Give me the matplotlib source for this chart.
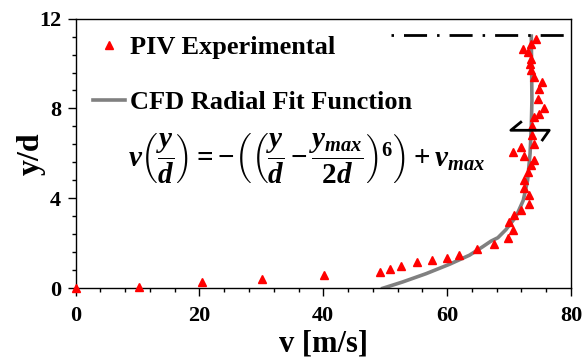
import matplotlib
matplotlib.use("Agg")
import matplotlib.pyplot as plt
from matplotlib.ticker import MultipleLocator

plt.rcParams["font.family"] = ["Liberation Serif", "DejaVu Serif"]
plt.rcParams["font.weight"] = "bold"
plt.rcParams["mathtext.fontset"] = "custom"
plt.rcParams["mathtext.rm"] = "Liberation Serif:bold"
plt.rcParams["mathtext.it"] = "Liberation Serif:bold:italic"
plt.rcParams["mathtext.bf"] = "Liberation Serif:bold"

# PIV measurements (v in m/s, y/d)
piv_v = [0.0, 10.2, 20.4, 30.1, 40.1, 49.1, 50.7, 52.5, 55.2, 57.6, 60.0,
         62.0, 64.8, 67.5, 69.9, 70.7, 70.0, 70.8, 71.9, 73.3, 73.3, 72.5,
         72.5, 73.0, 73.5, 74.1, 72.5, 70.6, 72.0, 74.0, 73.7, 73.7, 74.0,
         74.9, 75.7, 74.7, 74.9, 75.3, 74.0, 73.5, 73.4, 73.6, 73.1, 72.3,
         73.5, 74.4]
piv_y = [0.0, 0.07, 0.27, 0.43, 0.60, 0.71, 0.87, 0.97, 1.15, 1.26, 1.36,
         1.47, 1.74, 1.98, 2.25, 2.58, 2.93, 3.25, 3.47, 3.77, 4.15, 4.48,
         4.80, 5.17, 5.47, 5.69, 5.88, 6.07, 6.28, 6.41, 6.82, 7.20, 7.61,
         7.77, 8.02, 8.40, 8.87, 9.17, 9.39, 9.69, 9.99, 10.20, 10.50, 10.65,
         10.87, 11.07]

# CFD radial fit curve
cfd_v = [49.6, 52.8, 56.6, 60.4, 63.6, 65.7, 67.1, 68.2, 69.5, 71.1, 72.3,
         73.0, 73.4, 73.6, 73.7, 73.6]
cfd_y = [0.0, 0.28, 0.65, 1.07, 1.47, 1.84, 2.10, 2.25, 2.61, 3.17, 3.91,
         4.80, 5.99, 7.17, 8.36, 11.22]

# dash-dot line at the top and the rotation mark
top_v = [51.0, 79.0]
top_y = [11.28, 11.28]
mark_v = [71.9, 70.3, 76.5, 75.4]
mark_y = [7.39, 7.03, 7.03, 6.60]

fig = plt.figure(figsize=(5.84, 3.64), dpi=100)
ax = fig.add_axes([0.1296, 0.208, 0.848, 0.741])

ax.plot(cfd_v, cfd_y, color="#808080", lw=2.6, label="CFD Radial Fit Function",
        zorder=2)
ax.plot(piv_v, piv_y, ls="none", marker="^", ms=5.5, color="#FF0000",
        label="PIV Experimental", zorder=3, clip_on=False)
ax.plot(top_v, top_y, color="black", lw=2.0, dashes=(0.9, 3.6, 8.3, 3.6),
        clip_on=False, zorder=2)
ax.plot(mark_v, mark_y, color="black", lw=2.0, zorder=4)

ax.set_xlim(0, 80)
ax.set_ylim(0, 12)
ax.xaxis.set_major_locator(MultipleLocator(20))
ax.xaxis.set_minor_locator(MultipleLocator(4))
ax.yaxis.set_major_locator(MultipleLocator(4))
ax.yaxis.set_minor_locator(MultipleLocator(0.8))
ax.tick_params(which="major", length=5.5, width=1, labelsize=16, direction="out")
ax.tick_params(which="minor", length=3, width=1, direction="out")
ax.tick_params(axis="x", pad=7)
ax.tick_params(axis="y", pad=5)
for s in ax.spines.values():
    s.set_linewidth(1.0)

ax.set_xlabel("v [m/s]", fontsize=22, fontweight="bold", labelpad=3)
ax.set_ylabel("y/d", fontsize=23, fontweight="bold", labelpad=-5)

handles, labels = ax.get_legend_handles_labels()
ax.legend(handles[::-1], labels[::-1], loc="upper left",
          bbox_to_anchor=(0.0, 1.0), frameon=False,
          prop={"family": "Liberation Serif", "weight": "bold", "size": 19},
          handlelength=1.2, handletextpad=0.2, labelspacing=1.2,
          borderaxespad=0.3, borderpad=0.35)

ax.text(0.106, 0.48,
        r"$v\left(\dfrac{y}{d}\right)=-\left(\left(\dfrac{y}{d}-\dfrac{y_{max}}{2d}\right)^{6}\right)+v_{max}$",
        transform=ax.transAxes, fontsize=21, va="center", ha="left")

fig.savefig("out.png", dpi=100)
